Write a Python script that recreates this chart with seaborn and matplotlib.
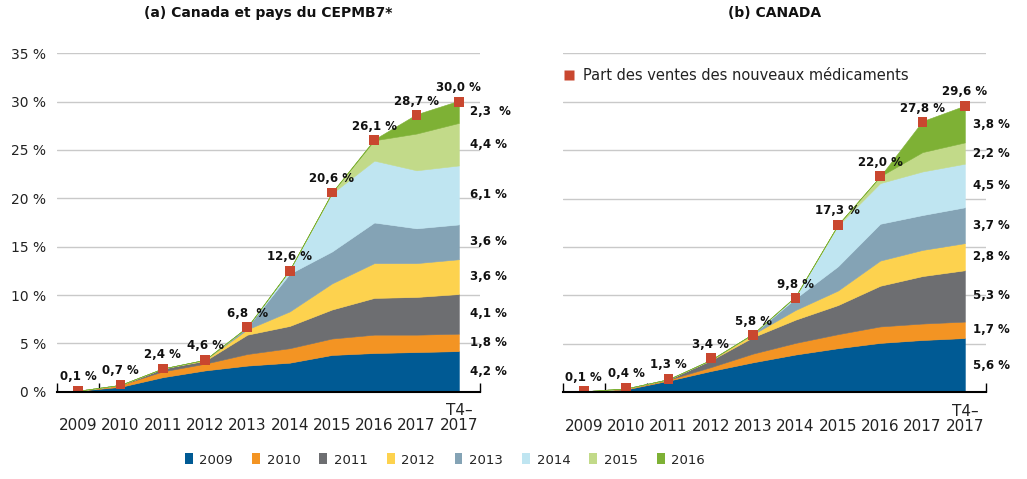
import numpy as np
import matplotlib
matplotlib.use("Agg")
import matplotlib.pyplot as plt
from matplotlib.patches import Patch
from matplotlib.lines import Line2D
from matplotlib.ticker import FixedLocator
import seaborn as sns

# ---------------- data ----------------
periods = ["2009", "2010", "2011", "2012", "2013", "2014", "2015", "2016", "2017", "T4–\n2017"]
cohorts = ["2009", "2010", "2011", "2012", "2013", "2014", "2015", "2016"]

# (a) Canada et pays du CEPMB7 - share of sales by launch cohort
L2009 = [0.1, 0.5, 1.5, 2.2, 2.7, 3.0, 3.8, 4.0, 4.1, 4.2]
L2010 = [0.0, 0.2, 0.6, 0.7, 1.2, 1.5, 1.7, 1.9, 1.8, 1.8]
L2011 = [0.0, 0.0, 0.3, 0.3, 2.0, 2.3, 3.0, 3.8, 3.9, 4.1]
L2012 = [0.0, 0.0, 0.0, 0.1, 0.55, 1.5, 2.7, 3.6, 3.5, 3.6]
L2013 = [0.0, 0.0, 0.0, 0.0, 0.25, 3.9, 3.3, 4.2, 3.6, 3.6]
L2014 = [0.0, 0.0, 0.0, 0.0, 0.0, 0.4, 6.0, 6.4, 6.0, 6.1]
L2015 = [0.0, 0.0, 0.0, 0.0, 0.0, 0.0, 0.1, 2.1, 3.8, 4.4]
L2016 = [0.0, 0.0, 0.0, 0.0, 0.0, 0.0, 0.0, 0.1, 2.0, 2.3]
left_markers = [0.1, 0.75, 2.4, 3.3, 6.7, 12.5, 20.6, 26.0, 28.6, 30.0]
left_marker_labels = ["0,1 %", "0,7 %", "2,4 %", "4,6 %", "6,8  %", "12,6 %",
                      "20,6 %", "26,1 %", "28,7 %", "30,0 %"]
left_end_labels = ["4,2 %", "1,8 %", "4,1 %", "3,6 %", "3,6 %", "6,1 %", "4,4 %", "2,3  %"]

# (b) CANADA
R2009 = [0.1, 0.3, 1.2, 2.2, 3.1, 3.9, 4.55, 5.1, 5.4, 5.6]
R2010 = [0.0, 0.1, 0.1, 0.4, 0.9, 1.2, 1.45, 1.7, 1.7, 1.7]
R2011 = [0.0, 0.0, 0.05, 0.7, 1.7, 2.4, 3.0, 4.2, 4.9, 5.3]
R2012 = [0.0, 0.0, 0.0, 0.05, 0.3, 1.0, 1.5, 2.6, 2.7, 2.8]
R2013 = [0.0, 0.0, 0.0, 0.0, 0.05, 1.2, 2.5, 3.8, 3.6, 3.7]
R2014 = [0.0, 0.0, 0.0, 0.0, 0.0, 0.2, 4.2, 4.2, 4.5, 4.5]
R2015 = [0.0, 0.0, 0.0, 0.0, 0.0, 0.0, 0.1, 0.7, 2.0, 2.2]
R2016 = [0.0, 0.0, 0.0, 0.0, 0.0, 0.0, 0.0, 0.0, 3.2, 3.8]
right_markers = [0.1, 0.5, 1.4, 3.5, 5.9, 9.7, 17.3, 22.3, 27.9, 29.6]
right_marker_labels = ["0,1 %", "0,4 %", "1,3 %", "3,4 %", "5,8 %", "9,8 %",
                       "17,3 %", "22,0 %", "27,8 %", "29,6 %"]
right_end_labels = ["5,6 %", "1,7 %", "5,3 %", "2,8 %", "3,7 %", "4,5 %", "2,2 %", "3,8 %"]

yticks = [0, 5, 10, 15, 20, 25, 30, 35]
ytick_labels = ["0 %", "5 %", "10 %", "15 %", "20 %", "25 %", "30 %", "35 %"]

titles = ["(a) Canada et pays du CEPMB7*", "(b) CANADA"]
marker_legend = "Part des ventes des nouveaux médicaments"

colors = ["#005A94", "#F39423", "#6D6E71", "#FDD24E", "#84A3B5",
          "#BFE5F1", "#C2DA89", "#7EB135"]
marker_color = "#C9472F"

# ---------------- figure ----------------
sns.set_style("white")
plt.rcParams["font.family"] = ["DejaVu Sans"]

W, H = 1027, 479
fig = plt.figure(figsize=(W / 100, H / 100), dpi=100)

def px_axes(x0, x1, y_top, y_bot):
    return fig.add_axes([x0 / W, 1 - y_bot / H, (x1 - x0) / W, (y_bot - y_top) / H])

axL = px_axes(57, 480, 53.3, 391.7)
axR = px_axes(562.7, 986, 53.3, 392.3)

x = np.arange(len(periods))

def draw_panel(ax, series, markers, marker_labels, end_labels, end_offset, title, show_y):
    polys = ax.stackplot(x, *series, colors=colors, zorder=2)
    for p, c in zip(polys, colors):
        p.set_edgecolor(c)
        p.set_linewidth(0.4)
    sns.scatterplot(x=x, y=markers, marker="s", s=50, color=marker_color,
                    edgecolor="none", linewidth=0, zorder=5, legend=False, ax=ax)
    for xi, yi, lab in zip(x, markers, marker_labels):
        ax.annotate(lab, (xi, yi), xytext=(0, 10), textcoords="offset points",
                    ha="center", va="center", fontsize=8.5, fontweight="bold",
                    color="#111111", zorder=6)
    # end labels centred in each band at the last period
    cum = np.cumsum([s[-1] for s in series])
    lows = np.concatenate([[0], cum[:-1]])
    for lo, hi, lab in zip(lows, cum, end_labels):
        ax.annotate(lab, (x[-1], (lo + hi) / 2), xytext=(end_offset, 0),
                    textcoords="offset points", ha="left", va="center",
                    fontsize=8.5, fontweight="bold", color="#111111",
                    annotation_clip=False)

    ax.set_xlim(-0.5, len(periods) - 0.5)
    ax.set_ylim(0, 35)
    ax.set_yticks(yticks)
    if show_y:
        ax.set_yticklabels(ytick_labels, fontsize=10, color="#222222")
    else:
        ax.set_yticklabels([])
    ax.tick_params(axis="y", length=0, pad=8)
    ax.set_xticks(x)
    ax.set_xticklabels(periods, fontsize=11, color="#222222", va="bottom",
                       linespacing=1.0)
    ax.tick_params(axis="x", which="major", length=0, pad=30)
    ax.xaxis.set_minor_locator(FixedLocator(np.arange(-0.5, len(periods), 1.0)))
    ax.tick_params(axis="x", which="minor", direction="in", length=6.5,
                   width=1, color="black", bottom=True)
    for side in ["left", "right", "top"]:
        ax.spines[side].set_visible(False)
    ax.spines["bottom"].set_color("black")
    ax.spines["bottom"].set_linewidth(1.5)
    ax.spines["bottom"].set_zorder(7)
    ax.yaxis.grid(True, color="#C9C9C9", linewidth=1)
    ax.xaxis.grid(False)
    ax.set_axisbelow(True)
    ax.set_title(title, fontsize=10, fontweight="bold", color="#111111", pad=0,
                 y=(479 - 13) / H * 0 + (53.3 - 13) / (391.7 - 53.3) + 1, va="center")

draw_panel(axL, [L2009, L2010, L2011, L2012, L2013, L2014, L2015, L2016],
           left_markers, left_marker_labels, left_end_labels, 8, titles[0], True)
draw_panel(axR, [R2009, R2010, R2011, R2012, R2013, R2014, R2015, R2016],
           right_markers, right_marker_labels, right_end_labels, 6, titles[1], False)

# marker legend inside right panel
mh = Line2D([], [], marker="s", linestyle="none", markersize=7.5,
            markerfacecolor=marker_color, markeredgecolor="none")
axR.legend([mh], [marker_legend], loc="center left",
           bbox_to_anchor=(0, 1 - (76 - 53.3) / (392.3 - 53.3)),
           frameon=False, fontsize=10.5, handlelength=0.8, handletextpad=0.6,
           borderpad=0, borderaxespad=0, labelcolor="#222222")

# cohort legend at bottom
handles = [Patch(facecolor=c, edgecolor="none") for c in colors]
fig.legend(handles, cohorts, loc="center", bbox_to_anchor=(445 / W, 1 - 460 / H),
           ncol=8, frameon=False, fontsize=9.5, handlelength=0.6, handleheight=0.9,
           handletextpad=0.5, columnspacing=1.45, labelcolor="#222222")

fig.savefig("out.png", dpi=100)
